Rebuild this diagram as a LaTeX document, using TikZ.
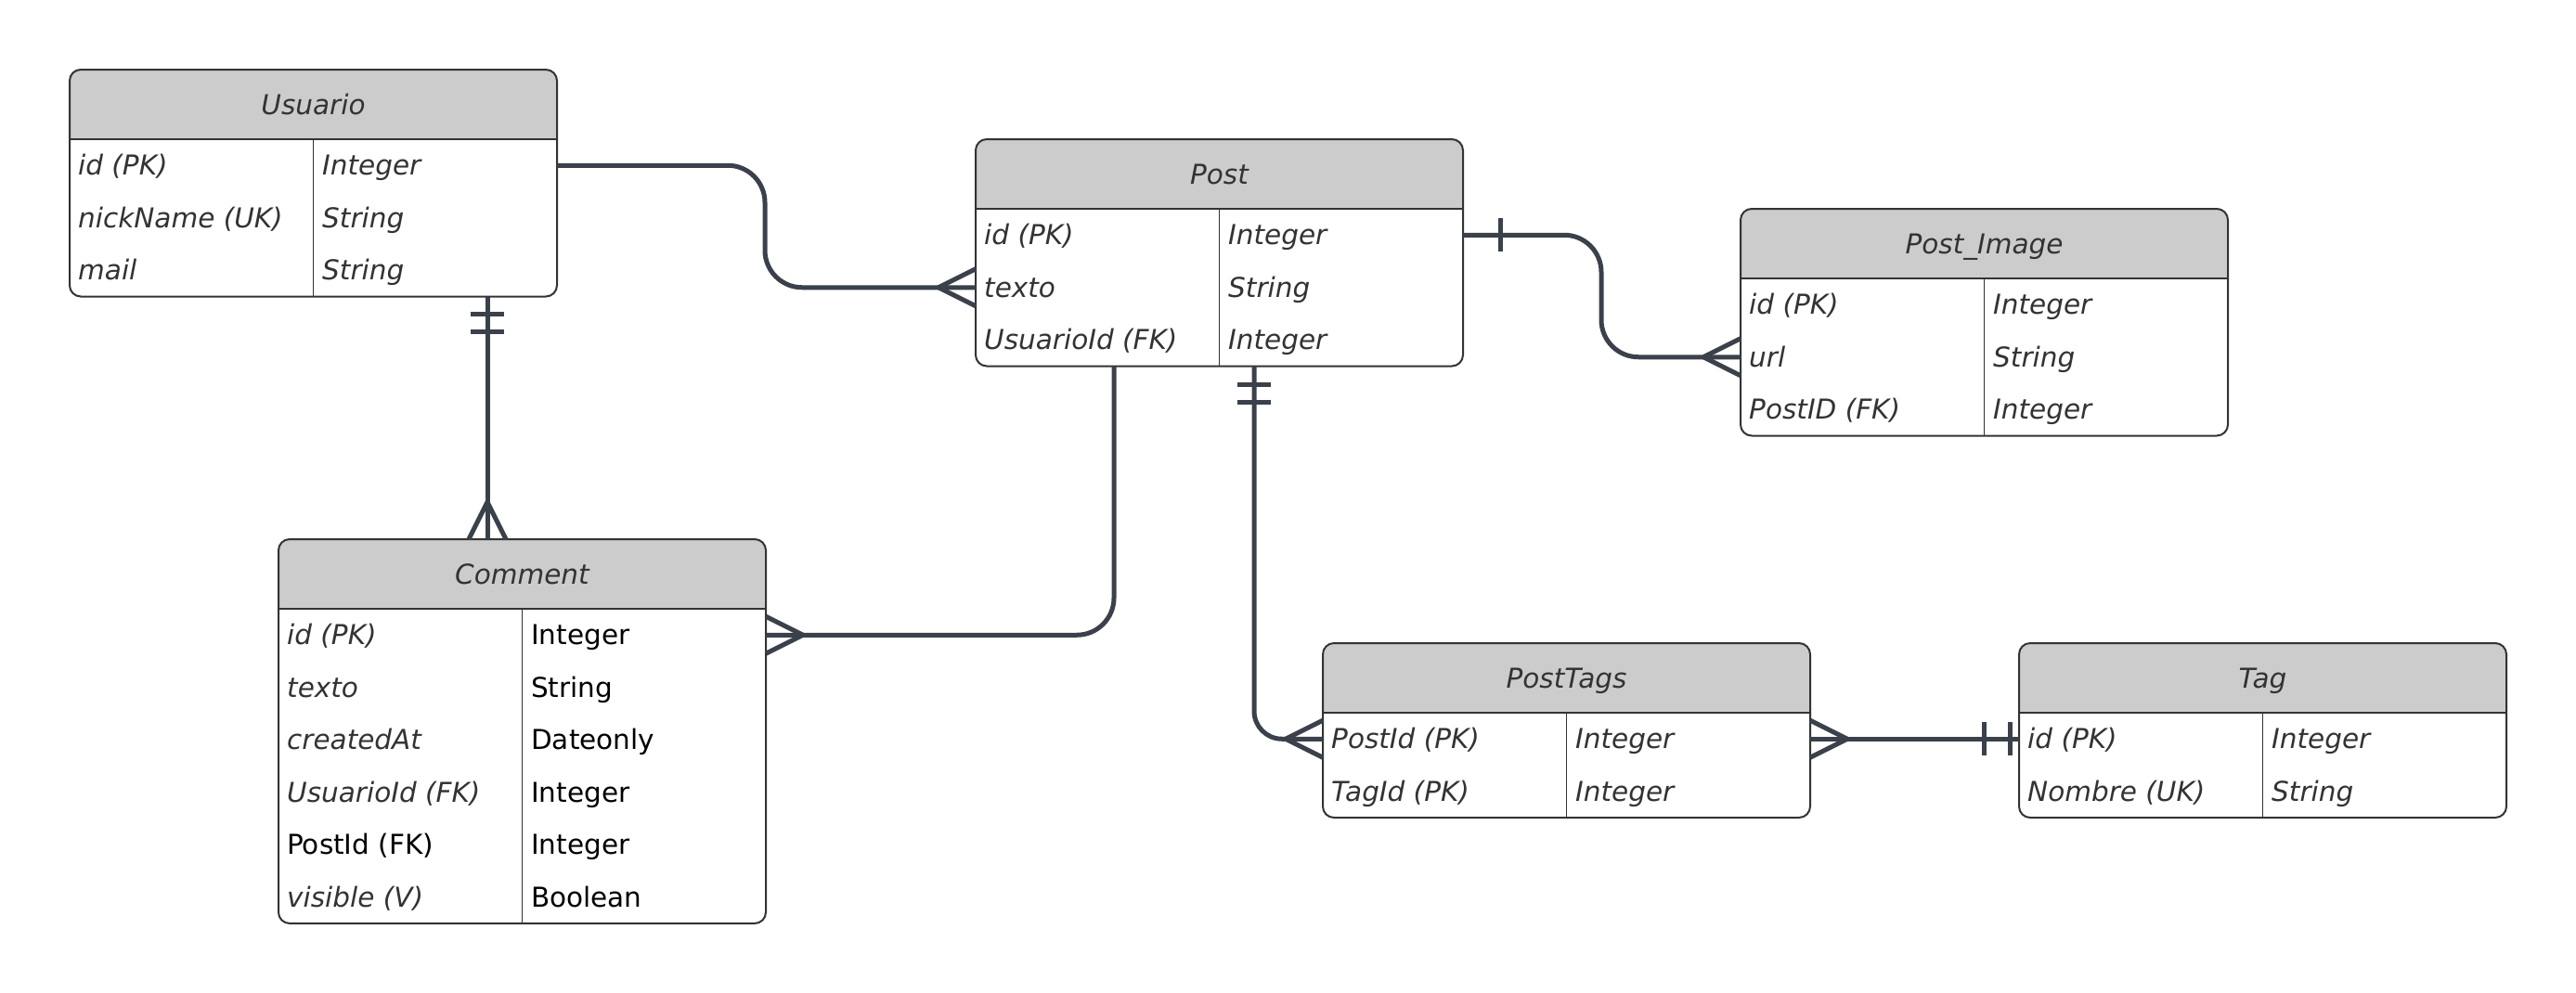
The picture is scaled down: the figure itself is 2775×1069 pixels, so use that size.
\documentclass[tikz,border=0pt]{standalone}
\usepackage{fontspec}
\setmainfont{DejaVu Sans}
\usetikzlibrary{calc}
\definecolor{hdr}{HTML}{CCCCCC}
\definecolor{bord}{HTML}{333333}
\definecolor{connc}{HTML}{3A414B}
\definecolor{txt}{HTML}{333333}
\tikzset{
  ent/.style={draw=bord, line width=2pt, rounded corners=12pt, minimum width=525pt, inner sep=0pt, outer sep=0pt, anchor=north west},
  conn/.style={draw=connc, line width=5pt, line join=round},
  cell/.style={anchor=base west, inner sep=0pt, font=\fontsize{29.5}{34}\selectfont\itshape, text=txt},
  cellu/.style={anchor=base west, inner sep=0pt, font=\fontsize{29.5}{34}\selectfont, text=black},
  ttl/.style={anchor=base, inner sep=0pt, font=\fontsize{29.5}{34}\selectfont\itshape, text=txt},
}
\newcommand\ertable[5]{%
  \pgfmathsetmacro\erh{75+#5*56.5}%
  \fill[white, rounded corners=12pt] (#2,#3) rectangle ++(525,\erh);
  \begin{scope}
    \clip[rounded corners=12pt] (#2,#3) rectangle ++(525,\erh);
    \fill[hdr] (#2,#3) rectangle ++(525,75);
  \end{scope}
  \draw[bord, line width=2.5pt] (#2,#3+75) -- ++(525,0);
  \draw[bord, line width=1pt] (#2+262,#3+75) -- (#2+262,#3+\erh);
  \node[ent, minimum height=\erh pt] (#1) at (#2,#3) {};
  \node[ttl] (#1-t) at (#2+262.5,#3+48) {#4};
  \foreach \k in {1,...,#5}{
    \coordinate (#1-r\k-w) at (#2,#3+75+28.25+\k*56.5-56.5);
    \coordinate (#1-r\k-e) at (#2+525,#3+75+28.25+\k*56.5-56.5);
  }
}
\newcommand\errow[4]{%
  \node[cell] (#1-#2-a) at ($(#1-r#2-w)+(9,10.5)$) {#3};
  \node[cell] (#1-#2-b) at ($(#1-r#2-w)+(272,10.5)$) {#4};
}
% crow's feet: W = line arrives from the left onto a west edge, etc.
\newcommand\crowW[1]{\draw[conn] ($(#1)+(0,-20)$) -- ($(#1)+(-40,0)$) -- ($(#1)+(0,20)$);}
\newcommand\crowE[1]{\draw[conn] ($(#1)+(0,-20)$) -- ($(#1)+(40,0)$) -- ($(#1)+(0,20)$);}
\newcommand\crowN[1]{\draw[conn] ($(#1)+(-20,0)$) -- ($(#1)+(0,-40)$) -- ($(#1)+(20,0)$);}
% bars across a vertical line (offset downward) / horizontal line (offset in x)
\newcommand\barV[2]{\draw[conn] ($(#1)+(-18,#2)$) -- ($(#1)+(18,#2)$);}
\newcommand\barH[2]{\draw[conn] ($(#1)+(#2,-18)$) -- ($(#1)+(#2,18)$);}
\begin{document}
\begin{tikzpicture}[x=1pt,y=-1pt]
\useasboundingbox (0,0) rectangle (2775,1069);
\fill[white] (0,0) rectangle (2775,1069);

\coordinate (j1) at (824,0);
\coordinate (j2) at (525,0);
\coordinate (j3) at (1200,0);
\coordinate (j4) at (1351,0);
\coordinate (j5) at (1725,0);

\ertable{usuario}{75}{75}{Usuario}{3}
\ertable{post}{1051}{150}{Post}{3}
\ertable{postimage}{1875}{225}{Post\_Image}{3}
\ertable{comment}{300}{581}{Comment}{6}
\ertable{posttags}{1425}{693}{PostTags}{2}
\ertable{tag}{2175}{693}{Tag}{2}

\errow{usuario}{1}{id (PK)}{Integer}
\errow{usuario}{2}{nickName (UK)}{String}
\errow{usuario}{3}{mail}{String}

\errow{post}{1}{id (PK)}{Integer}
\errow{post}{2}{texto}{String}
\errow{post}{3}{UsuarioId (FK)}{Integer}

\errow{postimage}{1}{id (PK)}{Integer}
\errow{postimage}{2}{url}{String}
\errow{postimage}{3}{PostID (FK)}{Integer}

\node[cell]  (comment-1-a) at ($(comment-r1-w)+(9,10.5)$) {id (PK)};
\node[cellu] (comment-1-b) at ($(comment-r1-w)+(272,10.5)$) {Integer};
\node[cell]  (comment-2-a) at ($(comment-r2-w)+(9,10.5)$) {texto};
\node[cellu] (comment-2-b) at ($(comment-r2-w)+(272,10.5)$) {String};
\node[cell]  (comment-3-a) at ($(comment-r3-w)+(9,10.5)$) {createdAt};
\node[cellu] (comment-3-b) at ($(comment-r3-w)+(272,10.5)$) {Dateonly};
\node[cell]  (comment-4-a) at ($(comment-r4-w)+(9,10.5)$) {UsuarioId (FK)};
\node[cellu] (comment-4-b) at ($(comment-r4-w)+(272,10.5)$) {Integer};
\node[cellu] (comment-5-a) at ($(comment-r5-w)+(9,10.5)$) {PostId (FK)};
\node[cellu] (comment-5-b) at ($(comment-r5-w)+(272,10.5)$) {Integer};
\node[cell]  (comment-6-a) at ($(comment-r6-w)+(9,10.5)$) {visible (V)};
\node[cellu] (comment-6-b) at ($(comment-r6-w)+(272,10.5)$) {Boolean};

\errow{posttags}{1}{PostId (PK)}{Integer}
\errow{posttags}{2}{TagId (PK)}{Integer}

\errow{tag}{1}{id (PK)}{Integer}
\errow{tag}{2}{Nombre (UK)}{String}

% Usuario -> Post
\draw[conn, rounded corners=40pt] (usuario-r1-e) -- (j1 |- usuario-r1-e) -- (j1 |- post-r2-w) -- (post-r2-w);
\crowW{post-r2-w}
% Usuario -> Comment
\coordinate (uc1) at (j2 |- usuario.south);
\coordinate (uc2) at (j2 |- comment.north);
\draw[conn] (uc1) -- (uc2);
\barV{uc1}{19}
\barV{uc1}{38}
\crowN{uc2}
% Post -> Comment
\coordinate (pc1) at (j3 |- post.south);
\draw[conn, rounded corners=40pt] (pc1) -- (j3 |- comment-r1-e) -- (comment-r1-e);
\crowE{comment-r1-e}
% Post -> PostTags
\coordinate (pt1) at (j4 |- post.south);
\draw[conn, rounded corners=30pt] (pt1) -- (j4 |- posttags-r1-w) -- (posttags-r1-w);
\barV{pt1}{20}
\barV{pt1}{39}
\crowW{posttags-r1-w}
% Post -> Post_Image
\draw[conn, rounded corners=40pt] (post-r1-e) -- (j5 |- post-r1-e) -- (j5 |- postimage-r2-w) -- (postimage-r2-w);
\barH{post-r1-e}{40}
\crowW{postimage-r2-w}
% PostTags -> Tag
\draw[conn] (posttags-r1-e) -- (tag-r1-w);
\crowE{posttags-r1-e}
\barH{tag-r1-w}{-10}
\barH{tag-r1-w}{-38}
\end{tikzpicture}
\end{document}
